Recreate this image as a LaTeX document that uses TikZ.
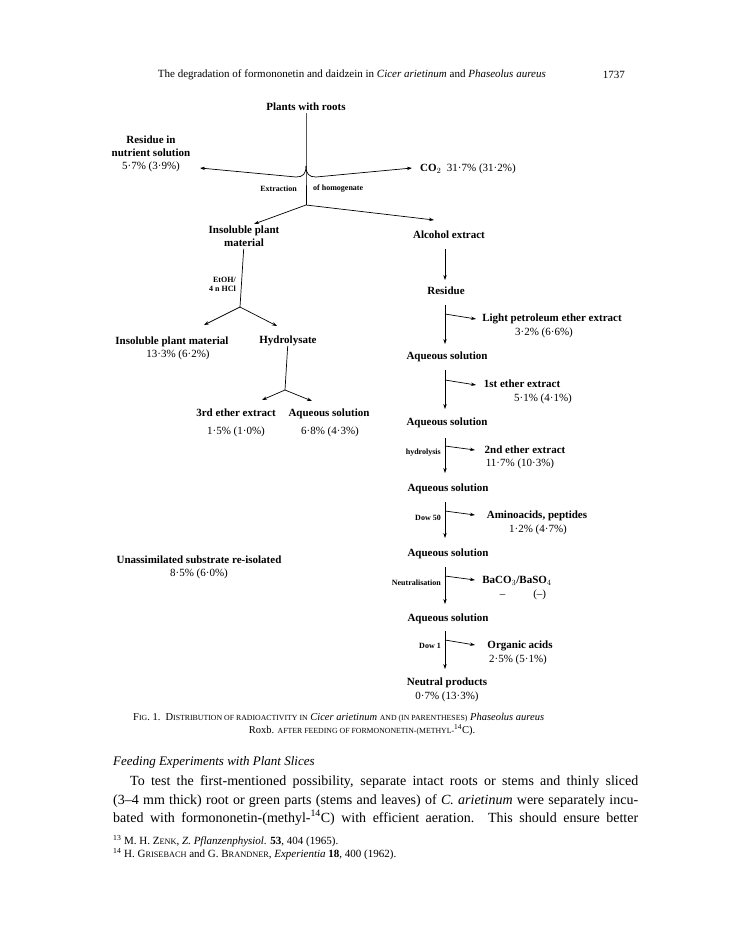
\documentclass[tikz,border=0pt]{standalone}
\usepackage{fontspec}
\setmainfont{Liberation Serif}
\usetikzlibrary{arrows.meta, positioning}

\newcommand{\capsc}[2][7.8]{{\fontsize{#1}{10}\selectfont\uppercase{#2}}}
\newcommand{\jline}[2][525pt]{\makebox[#1][s]{#2}}

\begin{document}
\begin{tikzpicture}[
    x=1pt, y=-1pt,
    node distance=3pt and 6pt,
    lab/.style={font=\fontsize{11}{13}\selectfont\bfseries, align=center, inner sep=0pt, text height=7.5pt, text depth=2pt},
    pct/.style={font=\fontsize{11}{13}\selectfont, inner sep=0pt, text height=7.5pt, text depth=2pt},
    small/.style={font=\fontsize{8}{9}\selectfont\bfseries, inner sep=0pt, align=right},
    body/.style={font=\fontsize{14}{18.5}\selectfont, inner sep=0pt, anchor=base west},
    foot/.style={font=\fontsize{11}{12}\selectfont, inner sep=0pt, anchor=base west},
    arr/.style={-{Stealth[length=5pt, width=3.4pt]}, line width=0.7pt},
    ln/.style={line width=0.7pt}
]
\path[use as bounding box, fill=white] (0,0) rectangle (740,927);

% Running head
\node[font=\fontsize{11}{12}\selectfont, inner sep=0pt, anchor=east] (head) at (546,75) {The degradation of formononetin and daidzein in \textit{Cicer arietinum} and \textit{Phaseolus aureus}};
\node[font=\fontsize{11}{12}\selectfont, inner sep=0pt, anchor=east] (page) at (625,75) {1737};

% Top of the scheme
\node[lab] (plants) at (306,108) {Plants with roots};
\node[lab] (resid) at (151,167) {Residue in\\nutrient solution\\\mdseries 5·7\% (3·9\%)};
\node[lab, anchor=west] (co2) at (420,169) {CO$_2$\enspace\mdseries 31·7\% (31·2\%)};
\coordinate (jtop) at (306,166);
\coordinate (jlow) at (306,205);
\coordinate (residtip) at (200,168);
\coordinate (co2tip) at (412,168);
\node[small, anchor=east] (extr) at (297,189) {Extraction};
\node[small, anchor=west] (homog) at (313,189) {of homogenate};

\draw[ln] (plants) -- (jtop) -- (jlow);
\draw[arr] (jtop) .. controls (306,174) and (303,177) .. (296,177) -- (residtip);
\draw[arr] (jtop) .. controls (306,174) and (309,177) .. (316,177) -- (co2tip);

% Left branch
\node[lab] (insol) at (244,244) {Insoluble plant\\material};
\coordinate (insoltip) at (254,224);
\draw[arr] (jlow) -- (insoltip);
\coordinate (hcl) at (240,307);
\node[small, anchor=east] (etoh) at (236,284) {EtOH/\\4 n HCl};
\draw[ln] (insol) -- (hcl);
\node[lab] (insol2) at (172,342) {Insoluble plant material};
\node[pct] (insol2p) at (178,355) {13·3\% (6·2\%)};
\node[lab] (hydro) at (288,341) {Hydrolysate};
\coordinate (insol2tip) at (204,325);
\coordinate (hydrotip) at (277,326);
\draw[arr] (hcl) -- (insol2tip);
\draw[arr] (hcl) -- (hydrotip);
\coordinate (hydj) at (285,390);
\draw[ln] (hydro) -- (hydj);
\node[lab] (ether3) at (236,414) {3rd ether extract};
\node[pct] (ether3p) at (236,432) {1·5\% (1·0\%)};
\node[lab] (aqL) at (329,414) {Aqueous solution};
\node[pct] (aqLp) at (330,432) {6·8\% (4·3\%)};
\coordinate (ether3tip) at (262,400);
\coordinate (aqLtip) at (312,401);
\draw[arr] (hydj) -- (ether3tip);
\draw[arr] (hydj) -- (aqLtip);

\node[lab] (unass) at (199,561) {Unassimilated substrate re-isolated};
\node[pct, below=of unass] (unassp) {8·5\% (6·0\%)};

% Right branch
\node[lab] (alc) at (449,236) {Alcohol extract};
\coordinate (alctip) at (434,220);
\draw[arr] (jlow) -- (alctip);
\node[lab] (resd) at (446,292) {Residue};
\draw[arr] (alc) ++(-4,13) -- ++(0,31);

\node[lab] (aq1) at (447,357) {Aqueous solution};
\node[lab] (aq2) at (447,423) {Aqueous solution};
\node[lab] (aq3) at (448,489) {Aqueous solution};
\node[lab] (aq4) at (448,554) {Aqueous solution};
\node[lab] (aq5) at (448,619) {Aqueous solution};
\node[lab] (neut) at (447,683) {Neutral products};
\node[pct] (neutp) at (447,697) {0·7\% (13·3\%)};

\node[lab] (pet) at (552,319) {Light petroleum ether extract};
\node[pct] (petp) at (544,333) {3·2\% (6·6\%)};
\node[lab] (e1) at (522,385) {1st ether extract};
\node[pct] (e1p) at (543,399) {5·1\% (4·1\%)};
\node[lab] (e2) at (525,451) {2nd ether extract};
\node[pct] (e2p) at (520,464) {11·7\% (10·3\%)};
\node[lab] (amino) at (537,516) {Aminoacids, peptides};
\node[pct] (aminop) at (538,530) {1·2\% (4·7\%)};
\node[lab] (baco) at (517,581) {BaCO$_3$/BaSO$_4$};
\node[pct] (bacop) at (523,595) {--\hspace{28pt}(--)};
\node[lab] (org) at (520,646) {Organic acids};
\node[pct] (orgp) at (518,660) {2·5\% (5·1\%)};

\node[small, anchor=east] (hydl) at (441,453) {hydrolysis};
\node[small, anchor=east] (dow50) at (441,518) {Dow 50};
\node[small, anchor=east] (neutr) at (441,583) {Neutralisation};
\node[small, anchor=east] (dow1) at (441,646) {Dow 1};

% Vertical steps with side arrows
\coordinate (p1) at (445,305);  \coordinate (p1b) at (445,344);
\coordinate (p2) at (445,370);  \coordinate (p2b) at (445,409);
\coordinate (p3) at (445,438);  \coordinate (p3b) at (445,473);
\coordinate (p4) at (445,502);  \coordinate (p4b) at (445,538);
\coordinate (p5) at (445,567);  \coordinate (p5b) at (445,604);
\coordinate (p6) at (445,631);  \coordinate (p6b) at (445,669);
\draw[arr] (p1) -- (p1b);  \draw[arr] (445,314) -- (476,319);
\draw[arr] (p2) -- (p2b);  \draw[arr] (445,380) -- (476,385);
\draw[arr] (p3) -- (p3b);  \draw[arr] (445,446) -- (475,450);
\draw[arr] (p4) -- (p4b);  \draw[arr] (445,511) -- (475,515);
\draw[arr] (p5) -- (p5b);  \draw[arr] (445,576) -- (475,580);
\draw[arr] (p6) -- (p6b);  \draw[arr] (445,640) -- (475,645);

% Caption
\node[font=\fontsize{10.5}{12}\selectfont, inner sep=0pt, anchor=base west] (cap1) at (133,720)
  {F\capsc{ig}. 1.\ \ D\capsc{istribution of radioactivity in} \textit{Cicer arietinum} \capsc{and (in parentheses)} \textit{Phaseolus aureus}};
\node[font=\fontsize{10.5}{12}\selectfont, inner sep=0pt, anchor=base] (cap2) at (362,733)
  {Roxb. \capsc{after feeding of formononetin-(methyl-}\textsuperscript{14}C).};

% Text below the figure
\node[body, font=\fontsize{13}{18.5}\selectfont\itshape] (sec) at (113,765) {Feeding Experiments with Plant Slices};
\node[body] (par1) at (130,785) {\jline[508pt]{To test the first-mentioned possibility, separate intact roots or stems and thinly sliced}};
\node[body] (par2) at (113,804) {\jline{(3--4 mm thick) root or green parts (stems and leaves) of \textit{C. arietinum} were separately incu-}};
\node[body] (par3) at (113,822) {\jline{bated with formononetin-(methyl-\textsuperscript{14}C) with efficient aeration. This should ensure better}};
\node[foot] (fn1) at (113,844) {\textsuperscript{13} M. H. Z\capsc[8.3]{enk}, \textit{Z. Pflanzenphysiol.} \textbf{53}, 404 (1965).};
\node[foot] (fn2) at (113,857) {\textsuperscript{14} H. G\capsc[8.3]{risebach} and G. B\capsc[8.3]{randner}, \textit{Experientia} \textbf{18}, 400 (1962).};

\end{tikzpicture}
\end{document}
